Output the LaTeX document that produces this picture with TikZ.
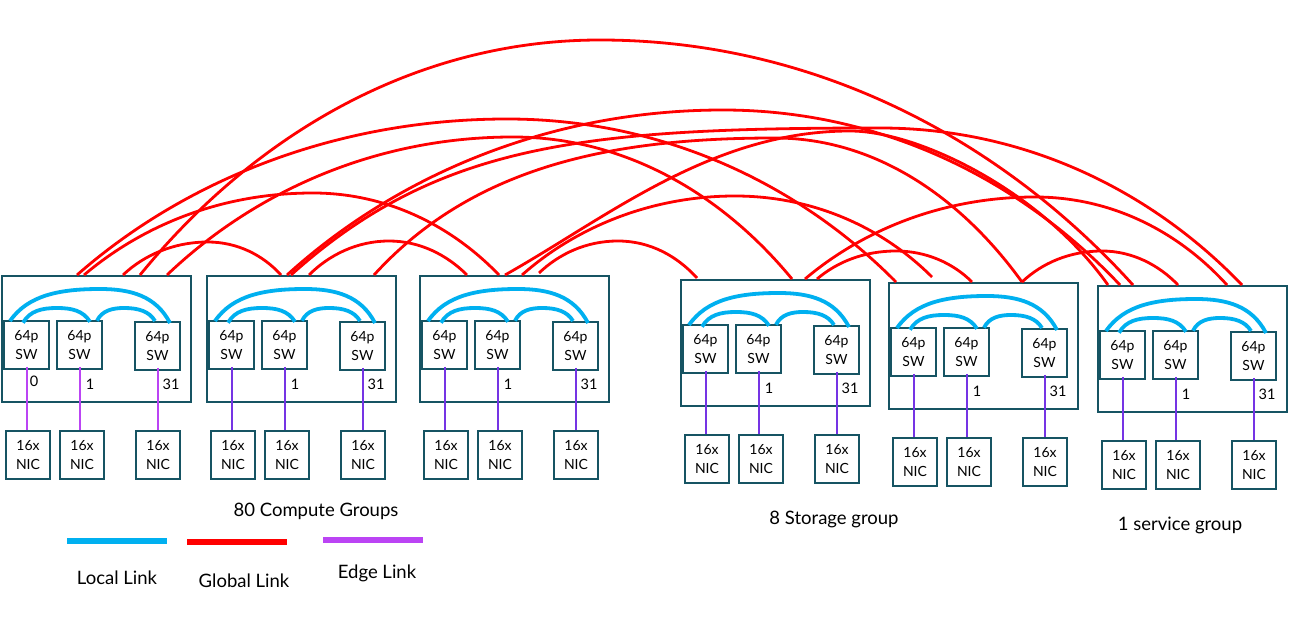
\documentclass[tikz,border=0pt]{standalone}
\usepackage{fontspec}
\setmainfont{Lato}
\usetikzlibrary{calc}
\definecolor{boxc}{RGB}{22,84,99}
\definecolor{locc}{RGB}{0,176,240}
\definecolor{glbc}{RGB}{255,0,0}
\definecolor{edgeA}{RGB}{187,68,244}
\definecolor{edgeB}{RGB}{117,52,228}
\begin{document}
\begin{tikzpicture}[x=1pt,y=-1pt,
  grp/.style={draw=boxc,line width=2pt,minimum width=189pt,minimum height=126pt,inner sep=0pt,anchor=north west},
  swbox/.style={draw=boxc,line width=2pt,minimum width=45pt,minimum height=48pt,inner sep=0pt,align=center,font=\fontsize{14}{19}\selectfont},
  nicbox/.style={draw=boxc,line width=2pt,minimum width=44pt,minimum height=48pt,inner sep=0pt,align=center,font=\fontsize{14}{19}\selectfont},
  idx/.style={font=\fontsize{14.5}{16}\selectfont,inner sep=0pt},
  local/.style={draw=locc,line width=3.8pt},
  glob/.style={draw=glbc,line width=2.8pt},
  edgeln/.style={line width=2pt},
  caption/.style={font=\fontsize{18.5}{21}\selectfont,inner sep=0pt}]
\useasboundingbox (0,0) rectangle (1315,617);
\fill[white] (0,0) rectangle (1315,617);

% ---------- groups ----------
\foreach \g/\L/\T/\ec in {1/1/275/edgeA,2/206/275/edgeB,3/419/275/edgeB,4/680/279/edgeB,5/888/282/edgeB,6/1097/285/edgeB}{
  \node[grp] (g\g) at (\L,\T) {};
  \node[swbox] (g\g sa) at (\L+25.5,\T+70) {64p\\SW};
  \node[swbox] (g\g sb) at (\L+78.5,\T+70) {64p\\SW};
  \node[swbox] (g\g sc) at (\L+156.5,\T+71) {64p\\SW};
  \node[nicbox] (g\g na) at (\L+27,\T+180) {16x\\NIC};
  \node[nicbox] (g\g nb) at (\L+81,\T+180) {16x\\NIC};
  \node[nicbox] (g\g nc) at (\L+157,\T+180) {16x\\NIC};
  \node[idx] (g\g ib) at (\L+89,\T+109) {1};
  \node[idx] (g\g ic) at (\L+170,\T+109) {31};
  \draw[edgeln,draw=\ec] ([yshift=3pt]g\g sa.south) -- (g\g sa.south |- g\g na.north);
  \draw[edgeln,draw=\ec] ([yshift=3pt]g\g sb.south) -- (g\g sb.south |- g\g nb.north);
  \draw[edgeln,draw=\ec] ([yshift=3pt]g\g sc.south) -- (g\g sc.south |- g\g nc.north);
  % local links
  \coordinate (g\g la) at (\L+9,\T+46);
  \coordinate (g\g lp) at (\L+99,\T+14);
  \coordinate (g\g lb) at (\L+169,\T+48);
  \draw[local] (g\g la) .. controls +(18,-26) and +(-40,0) .. (g\g lp) .. controls +(31,0) and +(-14,-27) .. (g\g lb);
  \coordinate (g\g ma) at (\L+22,\T+47.7);
  \coordinate (g\g mp) at (\L+56,\T+33);
  \coordinate (g\g mb) at (\L+89,\T+46.7);
  \draw[local] (g\g ma) .. controls +(7,-12) and +(-15,0) .. (g\g mp) .. controls +(15,0) and +(-7,-11) .. (g\g mb);
  \coordinate (g\g ka) at (\L+96,\T+45.7);
  \coordinate (g\g kp) at (\L+123,\T+33);
  \coordinate (g\g kb) at (\L+154,\T+46);
  \draw[local] (g\g ka) .. controls +(5,-10) and +(-12,0) .. (g\g kp) .. controls +(14,0) and +(-6,-10) .. (g\g kb);
}
\node[idx] (g1ia) at (34,381) {0};

% ---------- global links ----------
\coordinate (ra1) at (123,275); \coordinate (rp1) at (208,242); \coordinate (rb1) at (281,275);
\draw[glob] (ra1) .. controls +(21,-20) and +(-34,0) .. (rp1) .. controls +(29,0) and +(-18,-20) .. (rb1);
\coordinate (ra2) at (309,275); \coordinate (rp2) at (389,241); \coordinate (rb2) at (467,275);
\draw[glob] (ra2) .. controls +(20,-20) and +(-32,0) .. (rp2) .. controls +(31,0) and +(-20,-20) .. (rb2);
\coordinate (ra3) at (539,273); \coordinate (rp3) at (618,241); \coordinate (rb3) at (697,278);
\draw[glob] (ra3) .. controls +(20,-19) and +(-32,0) .. (rp3) .. controls +(32,0) and +(-20,-22) .. (rb3);
\coordinate (ra4) at (817,279); \coordinate (rp4) at (896,251); \coordinate (rb4) at (972,282);
\draw[glob] (ra4) .. controls +(20,-17) and +(-32,0) .. (rp4) .. controls +(30,0) and +(-19,-19) .. (rb4);
\coordinate (ra5) at (1022,282); \coordinate (rp5) at (1102,251); \coordinate (rb5) at (1178,285);
\draw[glob] (ra5) .. controls +(20,-19) and +(-32,0) .. (rp5) .. controls +(30,0) and +(-19,-20) .. (rb5);
\coordinate (ra6) at (84,275); \coordinate (rp6) at (313,193); \coordinate (rb6) at (499,275);
\draw[glob] (ra6) .. controls +(58,-49) and +(-93,0) .. (rp6) .. controls +(74,0) and +(-47,-49) .. (rb6);
\coordinate (ra7) at (522,275); \coordinate (rp7) at (735,196); \coordinate (rb7) at (932,277);
\draw[glob] (ra7) .. controls +(53,-47) and +(-85,0) .. (rp7) .. controls +(79,0) and +(-49,-49) .. (rb7);
\coordinate (ra8) at (805,279); \coordinate (rp8) at (1035,197); \coordinate (rb8) at (1227,285);
\draw[glob] (ra8) .. controls +(58,-49) and +(-92,0) .. (rp8) .. controls +(77,0) and +(-48,-53) .. (rb8);
\coordinate (ra9) at (77,275); \coordinate (rp9) at (507,119); \coordinate (rb9) at (896,282);
\draw[glob] (ra9) .. controls +(107,-94) and +(-172,0) .. (rp9) .. controls +(156,0) and +(-97,-98) .. (rb9);
\coordinate (ra10) at (167,275); \coordinate (rp10) at (513,137); \coordinate (rb10) at (792,279);
\draw[glob] (ra10) .. controls +(87,-83) and +(-138,0) .. (rp10) .. controls +(112,0) and +(-70,-85) .. (rb10);
\coordinate (ra11) at (140,275); \coordinate (rp11) at (600,40); \coordinate (rb11) at (1133,285);
\draw[glob] (ra11) .. controls +(115,-141) and +(-184,0) .. (rp11) .. controls +(213,0) and +(-133,-147) .. (rb11);
\coordinate (ra12) at (287,275); \coordinate (rp12) at (723,110); \coordinate (rb12) at (1120,285);
\draw[glob] (ra12) .. controls +(109,-99) and +(-174,0) .. (rp12) .. controls +(159,0) and +(-99,-105) .. (rb12);
\coordinate (ra13) at (291,275); \coordinate (rp13) at (880,128); \coordinate (rb13) at (1242,285);
\draw[glob] (ra13) .. controls +(147,-132) and +(-295,0) .. (rp13) .. controls +(145,0) and +(-90,-94) .. (rb13);
\coordinate (ra14) at (374,275); \coordinate (rp14) at (775,138); \coordinate (rb14) at (1022,282);
\draw[glob] (ra14) .. controls +(100,-110) and +(-160,0) .. (rp14) .. controls +(99,0) and +(-62,-86) .. (rb14);
\coordinate (ra15) at (505,275); \coordinate (rp15) at (850,131); \coordinate (rb15) at (1108,285);
\draw[glob] (ra15) .. controls +(103,-58) and +(-138,0) .. (rp15) .. controls +(70,0) and +(-65,-92) .. (rb15);

% ---------- captions ----------
\node[caption] (cap1) at (316,511) {80 Compute Groups};
\node[caption] (cap2) at (834,519) {8 Storage group};
\node[caption] (cap3) at (1180,525) {1 service group};

% ---------- legend ----------
\coordinate (lgla) at (67,541); \coordinate (lglb) at (167,541);
\coordinate (lgga) at (187,542); \coordinate (lggb) at (287,542);
\coordinate (lgea) at (323,540); \coordinate (lgeb) at (423,540);
\draw[draw=locc,line width=6pt] (lgla) -- (lglb);
\draw[draw=glbc,line width=6pt] (lgga) -- (lggb);
\draw[draw=edgeA,line width=6pt] (lgea) -- (lgeb);
\node[caption] (lt1) at (117,578) {Local Link};
\node[caption] (lt2) at (244,581) {Global Link};
\node[caption] (lt3) at (377,573) {Edge Link};
\end{tikzpicture}
\end{document}
